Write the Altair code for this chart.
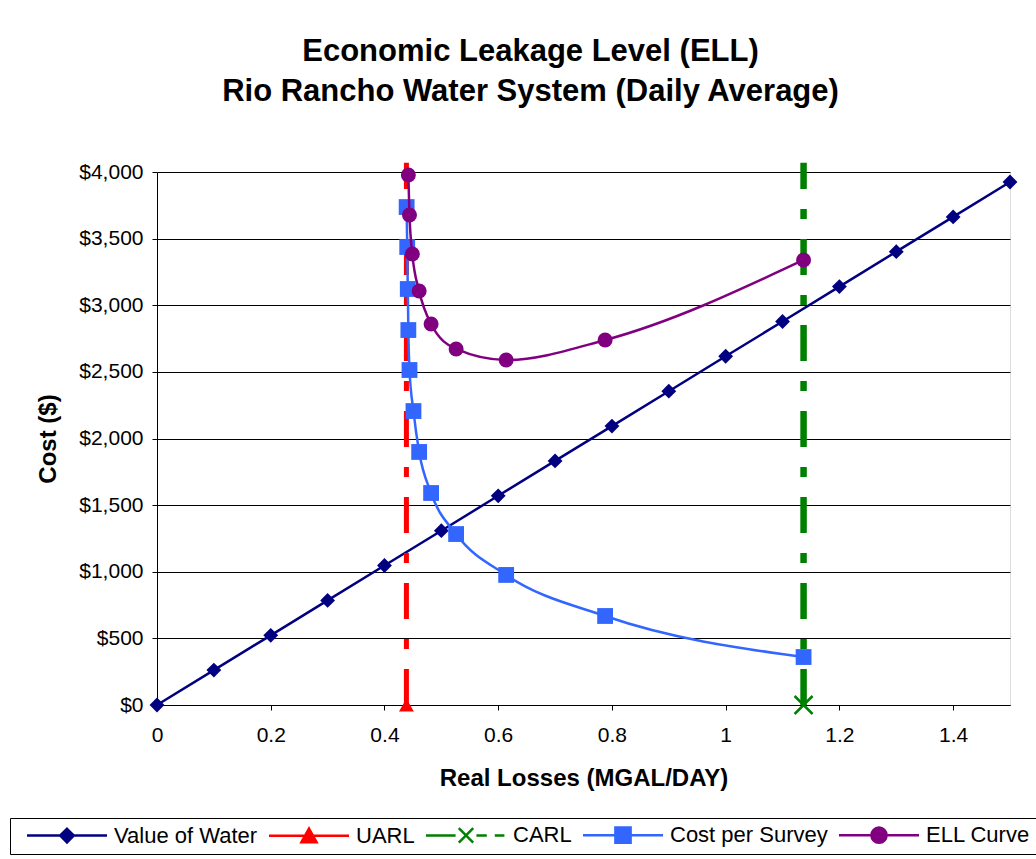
import altair as alt
import pandas as pd

FONT = "Liberation Sans"

# ---- data ----
uarl_x = [0.4386]
carl_x = [1.137]

water_x = [0.0, 0.1, 0.2, 0.3, 0.4, 0.5, 0.6, 0.7, 0.8, 0.9, 1.0, 1.1, 1.2, 1.3, 1.4, 1.5]
water_y = [0, 262, 523, 785, 1047, 1308, 1570, 1832, 2093, 2355, 2617, 2878, 3140, 3402, 3663, 3925]

cost_x = [0.439, 0.440, 0.441, 0.442, 0.444, 0.451, 0.461, 0.482, 0.526, 0.614, 0.788, 1.137]
cost_y = [3737, 3437, 3122, 2814, 2514, 2206, 1899, 1591, 1283, 976, 668, 360]

ell_x = [0.442, 0.444, 0.449, 0.461, 0.482, 0.526, 0.614, 0.788, 1.137]
ell_y = [3977, 3677, 3385, 3107, 2859, 2672, 2589, 2739, 3340]

x_ticks = [0, 0.2, 0.4, 0.6, 0.8, 1.0, 1.2, 1.4]
y_ticks = [0, 500, 1000, 1500, 2000, 2500, 3000, 3500, 4000]

series = ["Value of Water", "UARL", "CARL", "Cost per Survey", "ELL Curve"]
colors = ["#000080", "#FF0000", "#008000", "#3366FF", "#800080"]

# legend symbols: line + marker
legend_paths = [
    "M-5,0H5M0,-0.85L0.85,0L0,0.85L-0.85,0Z",
    "M-5,0H5M0,-0.9L0.95,0.8H-0.95Z",
    "M-5,0H-1.3M1.3,0H2.6M3.6,0H4.8M-0.9,-0.9L0.9,0.9M0.9,-0.9L-0.9,0.9",
    "M-5,0H5M-0.95,-0.95H0.95V0.95H-0.95Z",
    "M-5,0H5M0.95,0A0.95,0.95 0 1,1 -0.95,0A0.95,0.95 0 1,1 0.95,0Z",
]

water_df = pd.DataFrame({"x": water_x, "y": water_y})
cost_df = pd.DataFrame({"x": cost_x, "y": cost_y})
ell_df = pd.DataFrame({"x": ell_x, "y": ell_y})
uarl_df = pd.DataFrame({"x": uarl_x, "y": [0], "y2": [4070]})
carl_df = pd.DataFrame({"x": carl_x, "y": [0], "y2": [4070]})
leg_df = pd.DataFrame({"series": series})

X = alt.X("x:Q", scale=alt.Scale(domain=[0, 1.5], nice=False, zero=False),
          axis=alt.Axis(title="Real Losses (MGAL/DAY)", values=x_ticks, format="~g",
                        grid=False, labelFontSize=21, titleFontSize=24,
                        titleFontWeight="bold", labelFont=FONT, titleFont=FONT,
                        labelColor="black", titleColor="black",
                        domainColor="black", tickColor="black", tickSize=5,
                        labelPadding=14, titlePadding=21, labelFlush=False))
Y = alt.Y("y:Q", scale=alt.Scale(domain=[0, 4000], nice=False),
          axis=alt.Axis(title="Cost ($)", values=y_ticks, format="$,.0f",
                        grid=True, gridColor="#000000", gridWidth=1,
                        labelFontSize=21, titleFontSize=24, titleFontWeight="bold",
                        labelFont=FONT, titleFont=FONT, labelColor="black",
                        titleColor="black", domainColor="black", tickColor="black",
                        tickSize=5, labelPadding=9, titlePadding=18))

water_line = alt.Chart(water_df).mark_line(color=colors[0], strokeWidth=2.5).encode(x=X, y=Y)
water_pts = alt.Chart(water_df).mark_point(shape="diamond", size=220, filled=True,
                                           color=colors[0], opacity=1).encode(x=X, y=Y)

uarl_rule = alt.Chart(uarl_df).mark_rule(color=colors[1], strokeWidth=5,
                                         strokeDash=[36, 20, 10, 20], clip=False).encode(
    x=X, y=Y, y2="y2:Q")
uarl_pt = alt.Chart(uarl_df).mark_point(shape="triangle-up", size=220, filled=True,
                                        color=colors[1], opacity=1, clip=False).encode(x=X, y=Y)

carl_rule = alt.Chart(carl_df).mark_rule(color=colors[2], strokeWidth=6.5,
                                         strokeDash=[36, 20, 10, 20], clip=False).encode(
    x=X, y=Y, y2="y2:Q")
carl_pt = alt.Chart(carl_df).mark_point(shape="M-1,-1L1,1M1,-1L-1,1", size=324, filled=False,
                                        color=colors[2], strokeWidth=2.5, opacity=1,
                                        clip=False).encode(x=X, y=Y)

cost_line = alt.Chart(cost_df).mark_line(color=colors[3], strokeWidth=2.5,
                                         interpolate="monotone", clip=True).encode(x=X, y=Y)
cost_pts = alt.Chart(cost_df).mark_point(shape="square", size=250, filled=True,
                                         color=colors[3], opacity=1).encode(x=X, y=Y)

ell_line = alt.Chart(ell_df).mark_line(color=colors[4], strokeWidth=2.5,
                                       interpolate="monotone", clip=True).encode(x=X, y=Y)
ell_pts = alt.Chart(ell_df).mark_point(shape="circle", size=225, filled=True,
                                       color=colors[4], opacity=1).encode(x=X, y=Y)

leg = alt.Legend(title=None, orient="none", legendX=-147, legendY=646,
                 direction="horizontal", strokeColor="black", padding=6,
                 symbolOffset=40, labelOffset=36, columnPadding=0,
                 labelFont=FONT, labelFontSize=22, labelColor="black",
                 symbolSize=256, symbolStrokeWidth=2.5, symbolOpacity=1)

legend_layer = alt.Chart(leg_df).transform_filter("false").mark_point(
    filled=True, opacity=1, strokeWidth=2.5).encode(
    fill=alt.Fill("series:N", scale=alt.Scale(domain=series, range=colors), legend=leg),
    stroke=alt.Stroke("series:N", scale=alt.Scale(domain=series, range=colors), legend=leg),
    shape=alt.Shape("series:N", scale=alt.Scale(domain=series, range=legend_paths), legend=leg),
)

chart = alt.layer(
    water_line, water_pts, uarl_rule, uarl_pt, carl_rule, carl_pt,
    cost_line, cost_pts, ell_line, ell_pts, legend_layer
).properties(
    width=853, height=533,
    title=alt.TitleParams(
        ["Economic Leakage Level (ELL)", "Rio Rancho Water System (Daily Average)"],
        fontSize=31, font=FONT, fontWeight="bold", lineHeight=40, color="black",
        anchor="middle", offset=51, dx=-53),
    padding={"left": 157, "top": 172, "right": 26, "bottom": 154},
    autosize=alt.AutoSizeParams(type="none"),
).configure_view(stroke=None).configure(background="white")

chart.save("out.html", embed_options={"renderer": "svg", "actions": False})
